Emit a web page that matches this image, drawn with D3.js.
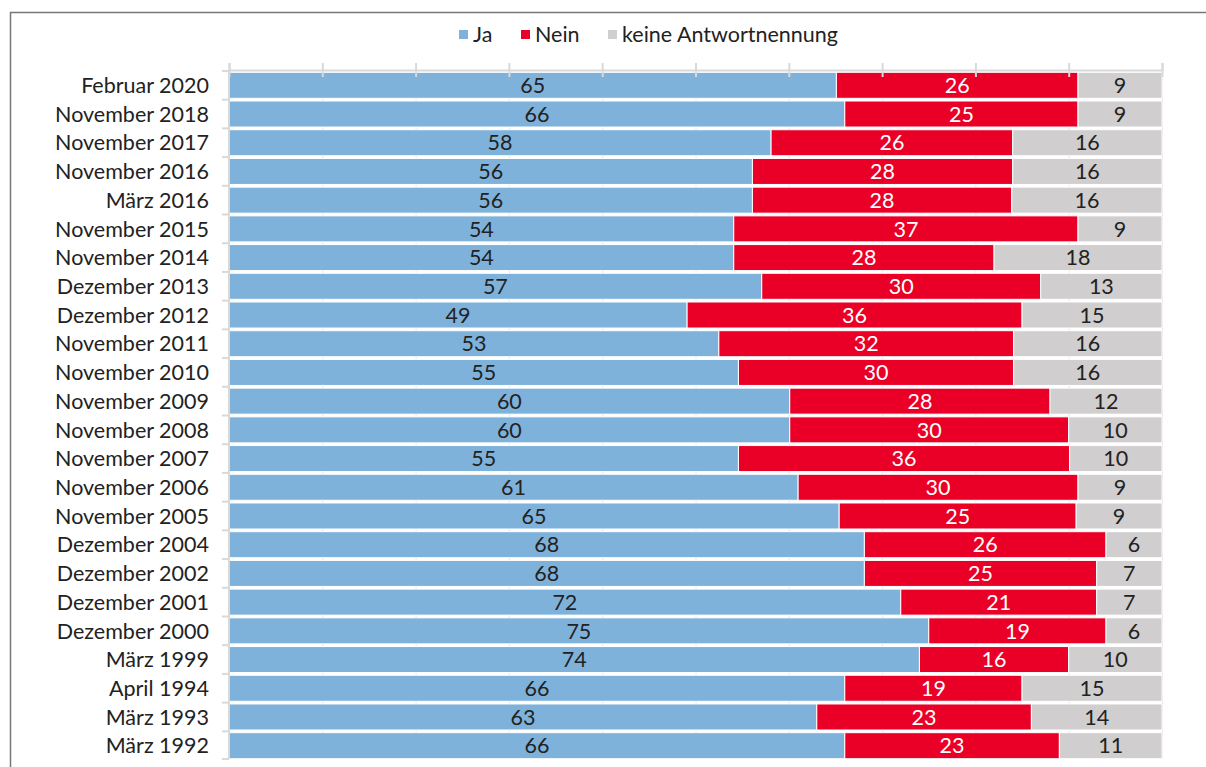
<!DOCTYPE html>
<html>
<head>
<meta charset="utf-8">
<title>Umfrage Balkendiagramm</title>
<script src="https://cdnjs.cloudflare.com/ajax/libs/d3/7.8.5/d3.min.js"></script>
<style>
  html, body { margin: 0; padding: 0; background: #fff; overflow: hidden; }
  svg { display: block; font-family: Lato, "Open Sans", sans-serif; }
</style>
</head>
<body>
<div id="chart"></div>
<script>
// survey dates, top to bottom
var categories = ["Februar 2020", "November 2018", "November 2017", "November 2016", "März 2016",
  "November 2015", "November 2014", "Dezember 2013", "Dezember 2012", "November 2011",
  "November 2010", "November 2009", "November 2008", "November 2007", "November 2006",
  "November 2005", "Dezember 2004", "Dezember 2002", "Dezember 2001", "Dezember 2000",
  "März 1999", "April 1994", "März 1993", "März 1992"];

// shares in percent (labels are rounded)
var ja   = [65.1, 66, 58.1, 56.1, 56.1, 54.1, 54.1, 57.1, 49.1, 52.5, 54.6, 60.1, 60.1, 54.6, 61, 65.4, 68.1, 68.1, 72, 75, 74, 66, 63, 66];
var nein = [25.9, 25, 25.9, 27.9, 27.8, 36.9, 27.9, 29.9, 35.9, 31.6, 29.5, 27.9, 29.9, 35.5, 30, 25.4, 25.9, 24.9, 21, 19, 16, 19, 23, 23];
var keine = [9, 9, 16, 16, 16.1, 9, 18, 13, 15, 15.9, 15.9, 12, 10, 9.9, 9, 9.2, 6, 7, 7, 6, 10, 15, 14, 11];

var seriesNames = ["Ja", "Nein", "keine Antwortnennung"];
var seriesColors = ["#7fb2da", "#ea0027", "#d0cece"];
var labelColors = ["#222", "#fff", "#222"];
var xTicks = [0, 10, 20, 30, 40, 50, 60, 70, 80, 90, 100];

var W = 1206, H = 767;
var margin = {top: 70, right: 44, left: 229};
var plotBottom = 759;
var fontSize = "21.5px";

var svg = d3.select("#chart").append("svg")
  .attr("width", W)
  .attr("height", H);

svg.append("rect")
  .attr("width", W).attr("height", H)
  .attr("fill", "#fff");

// outer frame: only top and left edges are in view
svg.append("line")
  .attr("x1", 10.5).attr("x2", 10.5)
  .attr("y1", 12).attr("y2", H)
  .attr("stroke", "#777").attr("stroke-width", 1.5);
svg.append("line")
  .attr("x1", 10).attr("x2", W)
  .attr("y1", 12.5).attr("y2", 12.5)
  .attr("stroke", "#777").attr("stroke-width", 1.5);

var x = d3.scaleLinear().domain([0, 100]).range([margin.left, W - margin.right]);
var y = d3.scaleBand().domain(categories).range([69.6, 761.4]).padding(0.094);

// build the stacked rows
var rows = categories.map(function(c, i) {
  return {cat: c, idx: i, Ja: ja[i], Nein: nein[i], "keine Antwortnennung": keine[i]};
});
var stack = d3.stack().keys(seriesNames)(rows);
var seriesValues = [ja, nein, keine];

// vertical gridlines, only visible in the gaps
svg.append("g").selectAll("line")
  .data(xTicks)
  .enter().append("line")
  .attr("x1", function(d) { return x(d) + 0.5; })
  .attr("x2", function(d) { return x(d) + 0.5; })
  .attr("y1", margin.top)
  .attr("y2", plotBottom)
  .attr("stroke", "#e4e4e4")
  .attr("stroke-width", 1);

// bars
var layers = svg.append("g").selectAll("g")
  .data(stack)
  .enter().append("g")
  .attr("fill", function(d, i) { return seriesColors[i]; });

layers.selectAll("rect")
  .data(function(d) { return d; })
  .enter().append("rect")
  .attr("x", function(d) { return x(d[0]); })
  .attr("y", function(d) { return y(d.data.cat); })
  .attr("width", function(d) { return x(d[1]) - x(d[0]); })
  .attr("height", y.bandwidth())
  .attr("stroke", "#fff")
  .attr("stroke-width", 1);

// value labels
layers.each(function(layer, i) {
  d3.select(this).selectAll("text")
    .data(layer)
    .enter().append("text")
    .attr("x", function(d) { return (x(d[0]) + x(d[1])) / 2; })
    .attr("y", function(d) { return y(d.data.cat) + y.bandwidth() / 2; })
    .attr("dy", "0.36em")
    .attr("text-anchor", "middle")
    .attr("fill", labelColors[i])
    .attr("stroke", "none")
    .style("font-size", fontSize)
    .text(function(d) { return Math.round(seriesValues[i][d.data.idx]); });
});

// top axis with cross tick marks
var topAxis = svg.append("g")
  .attr("transform", "translate(0," + margin.top + ")")
  .call(d3.axisTop(x).tickValues(xTicks).tickSize(7).tickFormat(""));
topAxis.select(".domain").attr("stroke", "#d9d9d9").attr("stroke-width", 2);
topAxis.selectAll(".tick line")
  .attr("stroke", "#d9d9d9")
  .attr("stroke-width", 2)
  .attr("y1", 7);

// left axis: line plus ticks at the band boundaries
var left = svg.append("g");
left.append("line")
  .attr("x1", margin.left).attr("x2", margin.left)
  .attr("y1", margin.top).attr("y2", plotBottom)
  .attr("stroke", "#d9d9d9").attr("stroke-width", 2);
var bounds = categories.map(function(c) { return y(c) - y.step() * y.padding() / 2; });
bounds.push(plotBottom);
left.selectAll(".btick")
  .data(bounds)
  .enter().append("line")
  .attr("x1", margin.left - 7).attr("x2", margin.left)
  .attr("y1", function(d) { return d; })
  .attr("y2", function(d) { return d; })
  .attr("stroke", "#d9d9d9").attr("stroke-width", 2);

// category labels
svg.append("g").selectAll("text")
  .data(categories)
  .enter().append("text")
  .attr("x", 209)
  .attr("y", function(d) { return y(d) + y.bandwidth() / 2; })
  .attr("dy", "0.36em")
  .attr("text-anchor", "end")
  .attr("fill", "#222")
  .style("font-size", fontSize)
  .text(function(d) { return d; });

// legend
var legendX = [459, 521, 608];
var legend = svg.append("g").selectAll("g")
  .data(seriesNames)
  .enter().append("g")
  .attr("transform", function(d, i) { return "translate(" + legendX[i] + ",30)"; });
legend.append("rect")
  .attr("width", 9).attr("height", 9)
  .attr("fill", function(d, i) { return seriesColors[i]; });
legend.append("text")
  .attr("x", 14)
  .attr("y", 4.5)
  .attr("dy", "0.36em")
  .attr("fill", "#222")
  .style("font-size", fontSize)
  .text(function(d) { return d; });
</script>
</body>
</html>
